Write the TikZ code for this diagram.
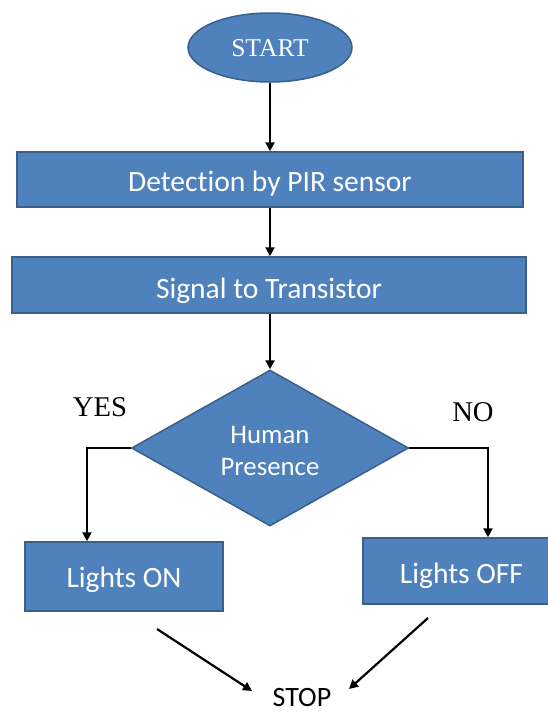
\documentclass[tikz,border=0pt]{standalone}
\usepackage{fontspec}
\setmainfont{Liberation Serif}
\newfontfamily\calib[Ligatures=NoCommon]{Carlito}
\usetikzlibrary{shapes.geometric,arrows.meta}
\definecolor{boxfill}{HTML}{4F81BD}
\definecolor{boxline}{HTML}{3A5F8B}
\tikzset{
  blockbox/.style={draw=boxline, line width=1.5pt, fill=boxfill, text=white, inner sep=0pt, text depth=0pt, font=\calib\fontsize{29.5}{32}\selectfont},
  arr/.style={draw=black, line width=2.2pt, -{Triangle[length=9pt,width=9pt]}},
  lbl/.style={text=black, inner sep=0pt, font=\fontsize{28.6}{30}\selectfont},
  wtxt/.style={text=white, inner sep=0pt, align=center, font=\calib\fontsize{26.8}{32}\selectfont}
}
\begin{document}
\begin{tikzpicture}[x=1pt,y=-1pt]
\useasboundingbox (0,0) rectangle (547,713);
\node[blockbox, ellipse, minimum width=164pt, minimum height=69pt, text height=18.4pt, font=\fontsize{25.6}{28}\selectfont] (start) at (270,47.5) {START};
\node[blockbox, rectangle, minimum width=506pt, minimum height=55pt, text height=23pt] (det) at (270,179.5) {Detection by PIR sensor};
\node[blockbox, rectangle, minimum width=514pt, minimum height=56pt, text height=26pt] (sig) at (269,285) {Signal to Transistor};
\node[blockbox, diamond, minimum width=277pt, minimum height=156pt] (dec) at (270,448) {};
\node[wtxt] (dectxt) at (270,451) {Human\\Presence};
\node[blockbox, rectangle, minimum width=198pt, minimum height=69pt, text height=21pt] (on) at (124,576.5) {Lights ON};
\node[blockbox, rectangle, minimum width=197pt, minimum height=66pt, text height=24pt] (off) at (461.5,571) {Lights OFF};
\node[lbl, font=\calib\fontsize{28}{30}\selectfont, text height=18pt, text depth=0pt] (stop) at (302,697) {STOP};
\node[lbl] (yes) at (100,407) {YES};
\node[lbl] (no) at (473,412) {NO};
\coordinate (onout) at (157,629);
\coordinate (stopa) at (252,691);
\coordinate (offout) at (428,618);
\coordinate (stopb) at (349,689);
\draw[arr] (start.south) -- (det.north);
\draw[arr] (det.south) -- (det.south |- sig.north);
\draw[arr] (dec.north |- sig.south) -- (dec.north);
\draw[arr] (dec.west) -| ([xshift=-37pt]on.north);
\draw[arr] (dec.east) -| ([xshift=26.5pt]off.north);
\draw[arr] (onout) -- (stopa);
\draw[arr] (offout) -- (stopb);
\end{tikzpicture}
\end{document}
